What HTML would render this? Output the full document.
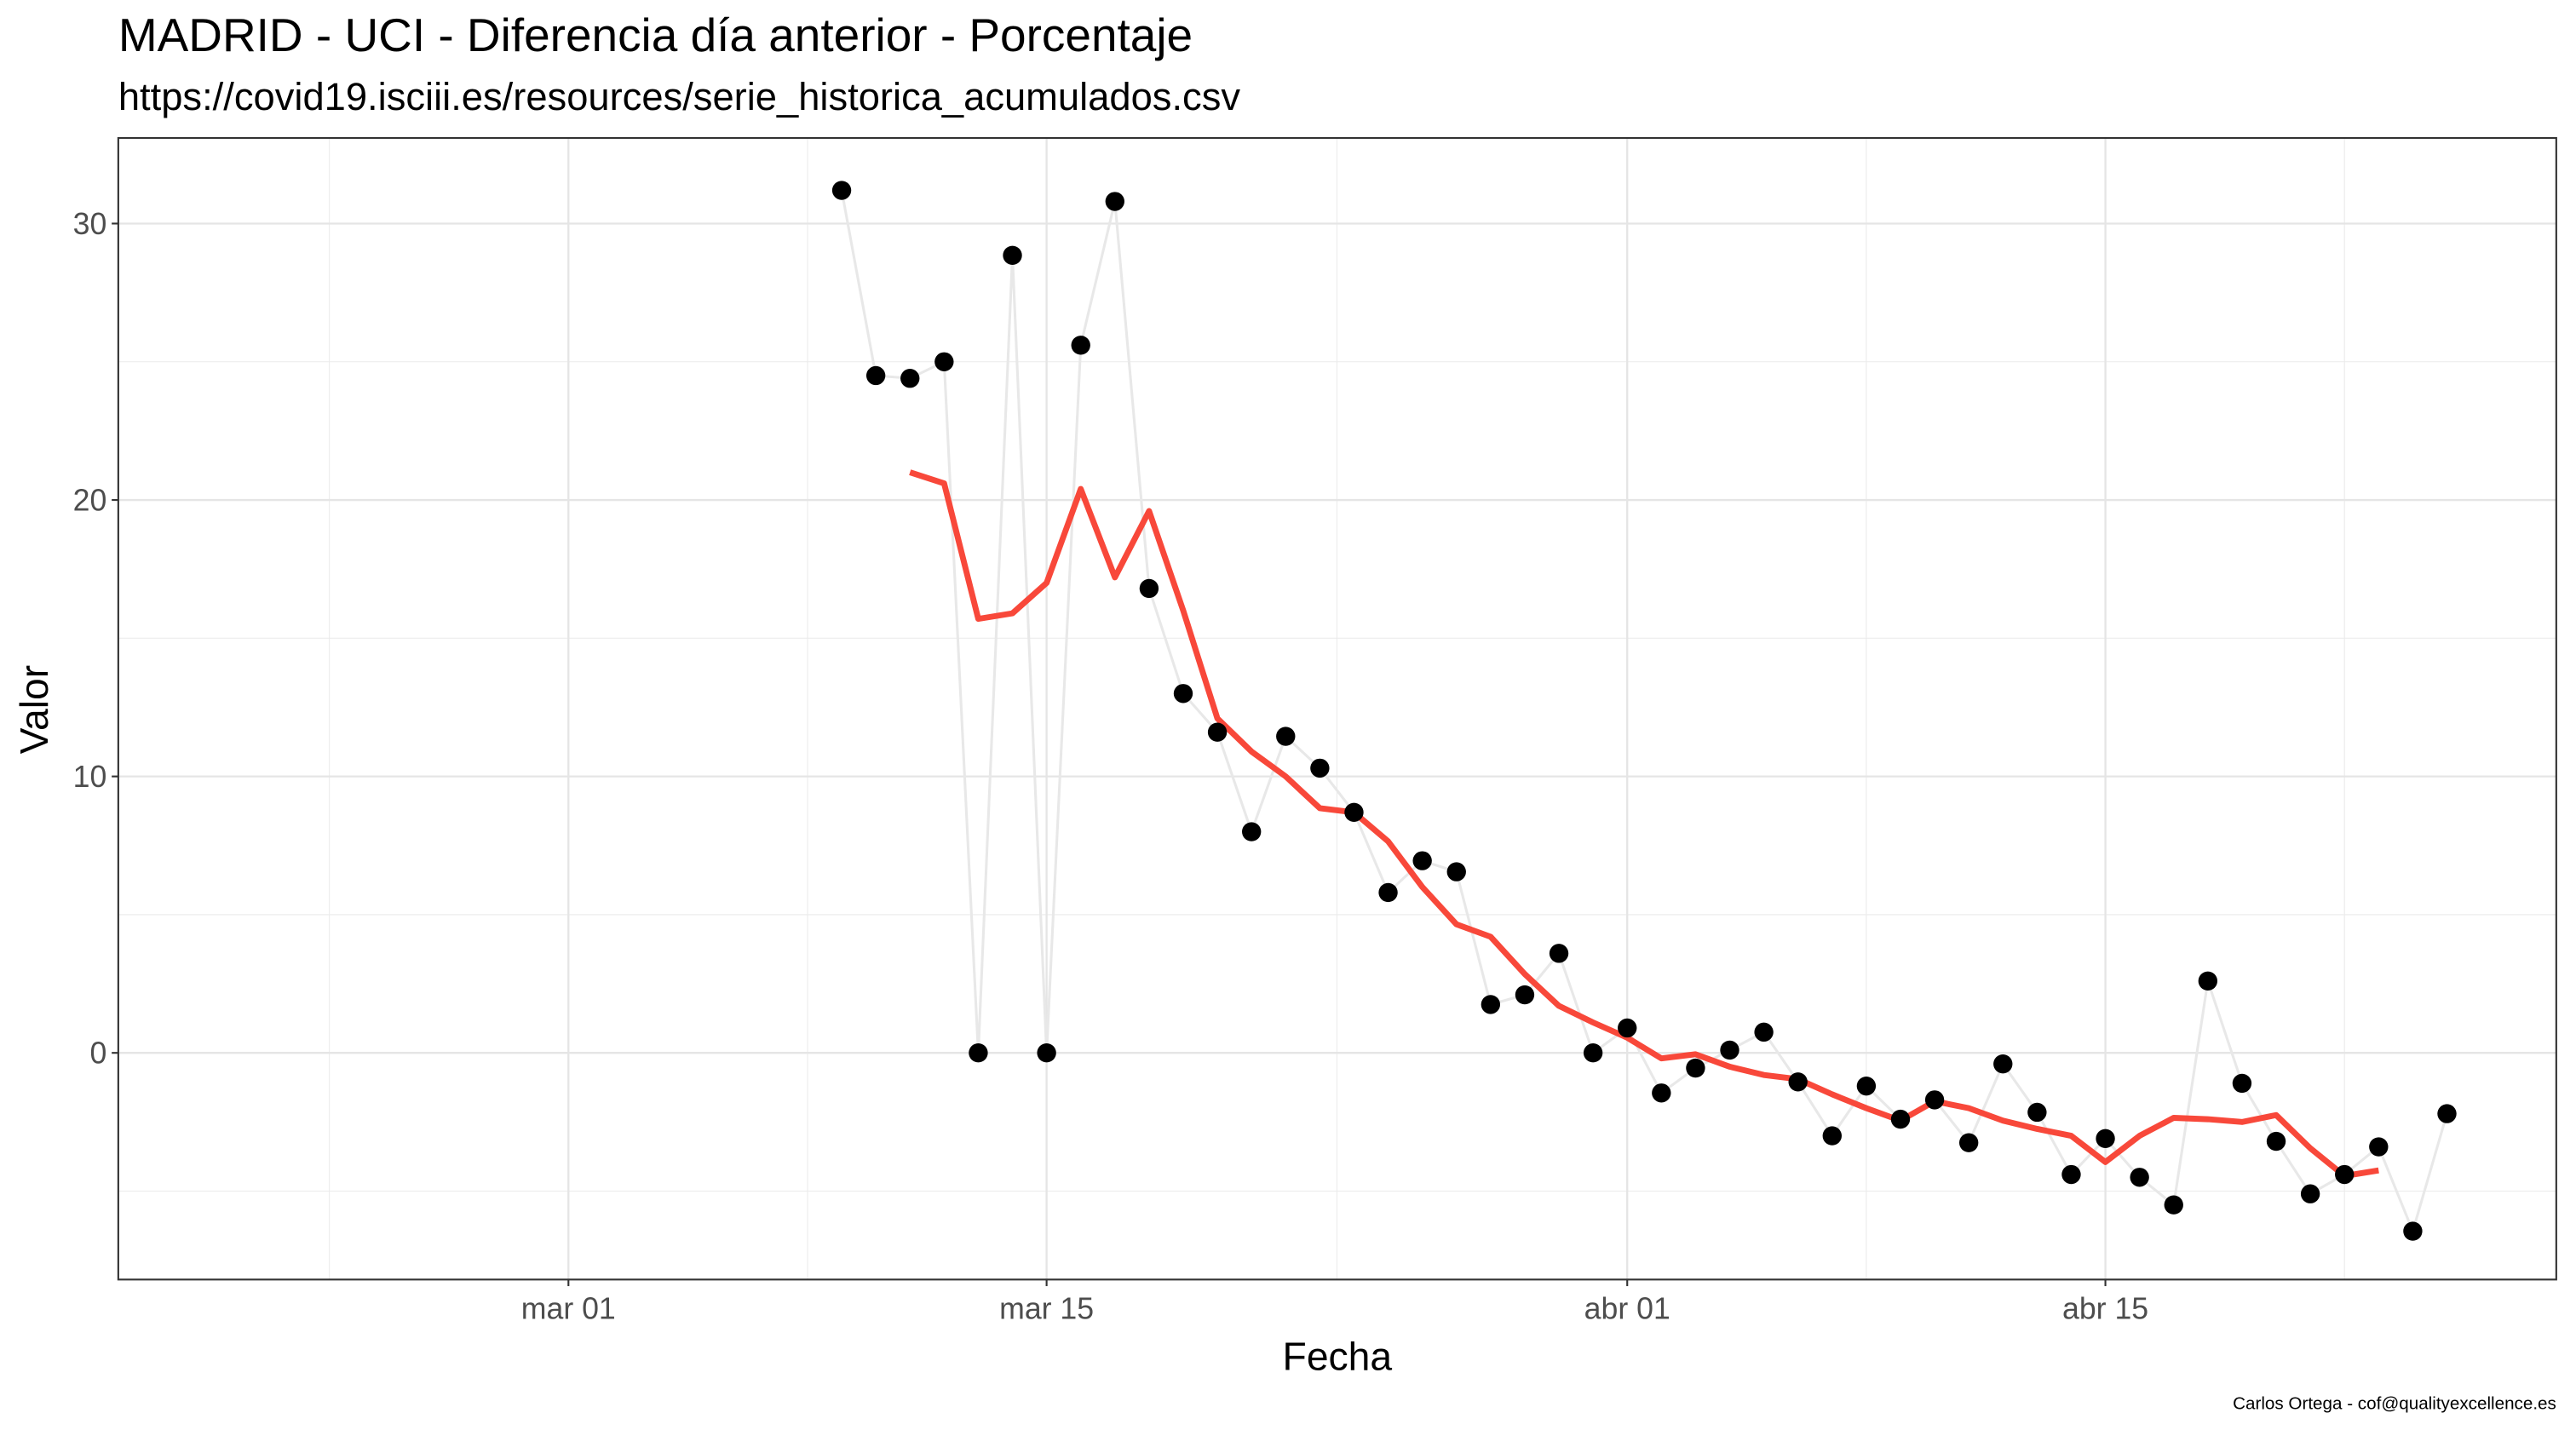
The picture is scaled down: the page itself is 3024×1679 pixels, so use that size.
<!DOCTYPE html>
<html><head><meta charset="utf-8"><style>
html,body{margin:0;padding:0;background:#fff;overflow:hidden}
svg{display:block;font-family:"Liberation Sans",Arial,sans-serif}
</style></head><body>
<svg id="chart" width="3024" height="1679" viewBox="0 0 1568 870.6" xmlns="http://www.w3.org/2000/svg">
<text x="72" y="31" font-size="28.5" fill="#000">MADRID - UCI - Diferencia día anterior - Porcentaje</text>
<text x="72" y="67" font-size="23.5" fill="#000">https://covid19.isciii.es/resources/serie_historica_acumulados.csv</text>
<g id="grid"></g>
<g id="series"></g>
<rect x="72" y="84" width="1484" height="695" fill="none" stroke="#333" stroke-width="1.1"/>
<g id="axes"></g>
<text x="814" y="834" font-size="24" text-anchor="middle" fill="#000">Fecha</text>
<text transform="translate(29,432) rotate(-90)" font-size="24" text-anchor="middle" fill="#000">Valor</text>
<text x="1556" y="858" font-size="10.7" text-anchor="end" fill="#000">Carlos Ortega - cof@qualityexcellence.es</text>
</svg>
<script>
// day index: 0 = mar 01
const xTickDays = [0, 14, 31, 45];
const xTickLabels = ["mar 01", "mar 15", "abr 01", "abr 15"];
const xMinorDays = [-7, 7, 22.5, 38, 52];
const yTicks = [0, 10, 20, 30];
const yTickLabels = ["0", "10", "20", "30"];
const yMinor = [-5, 5, 15, 25];
const pointDays = [8,9,10,11,12,13,14,15,16,17,18,19,20,21,22,23,24,25,26,27,28,29,30,31,32,33,34,35,36,37,38,39,40,41,42,43,44,45,46,47,48,49,50,51,52,53,54,55];
const pointValues = [31.2,24.5,24.4,25.0,0,28.85,0,25.6,30.8,16.8,13.0,11.6,8.0,11.45,10.3,8.7,5.8,6.95,6.55,1.75,2.1,3.6,0.0,0.9,-1.45,-0.55,0.1,0.75,-1.05,-3.0,-1.2,-2.4,-1.7,-3.25,-0.4,-2.15,-4.4,-3.1,-4.5,-5.5,2.6,-1.1,-3.2,-5.1,-4.4,-3.4,-6.45,-2.2];
const avgDays = [10,11,12,13,14,15,16,17,18,19,20,21,22,23,24,25,26,27,28,29,30,31,32,33,34,35,36,37,38,39,40,41,42,43,44,45,46,47,48,49,50,51,52,53];
const avgValues = [21.0,20.6,15.7,15.9,17.0,20.4,17.2,19.6,16.0,12.1,10.9,10.0,8.85,8.7,7.65,6.0,4.65,4.2,2.85,1.7,1.1,0.55,-0.2,-0.05,-0.5,-0.8,-0.95,-1.5,-2.0,-2.45,-1.75,-2.0,-2.45,-2.75,-3.0,-3.95,-3.0,-2.35,-2.4,-2.5,-2.25,-3.45,-4.45,-4.25];

const NS = "http://www.w3.org/2000/svg";
const L = 72, R = 1556, T = 84, B = 779;
function xs(d) { return 346 + d * 20.79; }
function ys(v) { return 641 - v * 16.83; }
function mk(tag, attrs, parent) {
  const e = document.createElementNS(NS, tag);
  for (const k in attrs) e.setAttribute(k, attrs[k]);
  parent.appendChild(e);
  return e;
}
const grid = document.getElementById('grid');
const series = document.getElementById('series');
const axes = document.getElementById('axes');
mk('rect', {x: L, y: T, width: R - L, height: B - T, fill: '#fff'}, grid);
yMinor.forEach(v => {
  const e = mk('line', {x1: L, x2: R, y1: ys(v), y2: ys(v), stroke: '#ebebeb', 'stroke-width': 0.55}, grid);
  
  
});
xMinorDays.forEach(d => {
  const e = mk('line', {x1: xs(d), x2: xs(d), y1: T, y2: B, stroke: '#ebebeb', 'stroke-width': 0.55}, grid);
  
  
});
yTicks.forEach((v, i) => {
  const e = mk('line', {x1: L, x2: R, y1: ys(v), y2: ys(v), stroke: '#e5e5e5', 'stroke-width': 1.2}, grid);
  
  
  const t = mk('line', {x1: L - 4, x2: L, y1: ys(v), y2: ys(v), stroke: '#333', 'stroke-width': 1.1}, axes);
  
  
  const lb = mk('text', {x: L - 7, y: ys(v) + 6.5, 'font-size': 18.5, 'text-anchor': 'end', fill: '#4d4d4d'}, axes);
  lb.textContent = yTickLabels[i];
  
  
});
xTickDays.forEach((d, i) => {
  const e = mk('line', {x1: xs(d), x2: xs(d), y1: T, y2: B, stroke: '#e5e5e5', 'stroke-width': 1.2}, grid);
  
  
  const t = mk('line', {x1: xs(d), x2: xs(d), y1: B, y2: B + 4, stroke: '#333', 'stroke-width': 1.1}, axes);
  
  
  const lb = mk('text', {x: xs(d), y: B + 24, 'font-size': 18.5, 'text-anchor': 'middle', fill: '#4d4d4d'}, axes);
  lb.textContent = xTickLabels[i];
  
  
});
const rawLine = mk('polyline', {points: pointDays.map((d, i) => xs(d) + ',' + ys(pointValues[i])).join(' '), fill: 'none', stroke: '#e8e8e8', 'stroke-width': 1.6}, series);


const avgLine = mk('polyline', {points: avgDays.map((d, i) => xs(d) + ',' + ys(avgValues[i])).join(' '), fill: 'none', stroke: '#f8483a', 'stroke-width': 3.6, 'stroke-linejoin': 'round'}, series);


pointDays.forEach((d, i) => {
  const c = mk('circle', {cx: xs(d), cy: ys(pointValues[i]), r: 5.8, fill: '#000'}, series);
  
  
});
</script>
</body></html>
